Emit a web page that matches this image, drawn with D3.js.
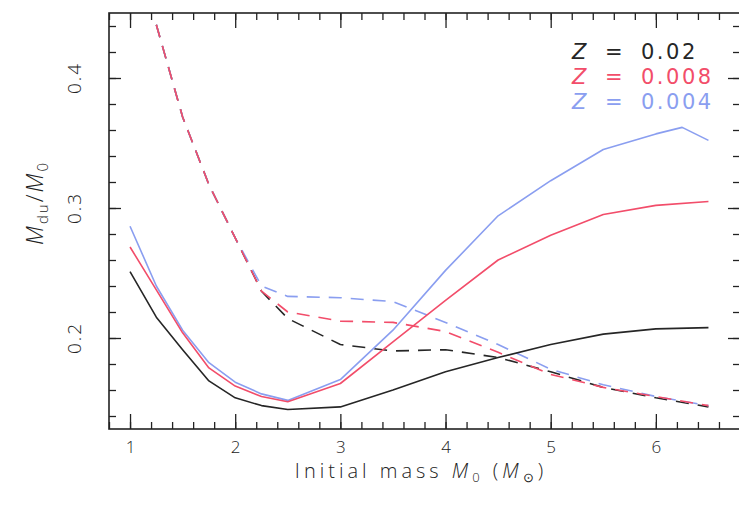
<!DOCTYPE html>
<html>
<head>
<meta charset="utf-8">
<script src="https://cdn.jsdelivr.net/npm/d3@7"></script>
<style>
  html, body { margin: 0; padding: 0; background: #fff; }
  svg { display: block; }
  text { font-family: "Open Sans", "DejaVu Sans", sans-serif; font-weight: 300; }
</style>
</head>
<body>
<svg id="chart" width="739" height="515"></svg>
<script>
// Initial stellar masses (solar masses) for the solid curves
const massesSolid = [1.0, 1.25, 1.5, 1.75, 2.0, 2.25, 2.5, 3.0, 3.5, 4.0, 4.5, 5.0, 5.5, 6.0, 6.5];
const massesSolidZ004 = [1.0, 1.25, 1.5, 1.75, 2.0, 2.25, 2.5, 3.0, 3.5, 4.0, 4.5, 5.0, 5.5, 6.0, 6.25, 6.5];
// Initial masses for the dashed curves
const massesDashed = [1.25, 1.5, 1.75, 2.0, 2.25, 2.5, 3.0, 3.5, 4.0, 4.5, 5.0, 5.5, 6.0, 6.5];

// Solid curves: M_du / M_0
const solidZ002  = [0.251, 0.216, 0.191, 0.167, 0.154, 0.148, 0.145, 0.147, 0.160, 0.174, 0.185, 0.195, 0.203, 0.207, 0.208];
const solidZ0008 = [0.270, 0.237, 0.204, 0.177, 0.163, 0.155, 0.151, 0.165, 0.197, 0.229, 0.260, 0.279, 0.295, 0.302, 0.305];
const solidZ0004 = [0.286, 0.240, 0.206, 0.181, 0.166, 0.157, 0.152, 0.168, 0.206, 0.252, 0.294, 0.321, 0.345, 0.357, 0.362, 0.352];

// Dashed curves
const dashedZ002  = [0.441, 0.370, 0.318, 0.277, 0.236, 0.215, 0.195, 0.190, 0.191, 0.185, 0.174, 0.162, 0.154, 0.147];
const dashedZ0008 = [0.441, 0.370, 0.318, 0.277, 0.236, 0.220, 0.213, 0.212, 0.205, 0.189, 0.172, 0.162, 0.155, 0.148];
const dashedZ0004 = [0.441, 0.370, 0.318, 0.277, 0.240, 0.232, 0.231, 0.228, 0.212, 0.195, 0.176, 0.164, 0.155, 0.148];

// Axis ticks and labels
const xMajorTicks = [1, 2, 3, 4, 5, 6];
const yMajorTicks = [0.2, 0.3, 0.4];
const legendLabels = ["0.02", "0.008", "0.004"];

const colors = { z002: "#262626", z0008: "#f24d6a", z0004: "#8a9ef0" };

const svg = d3.select("#chart");
const plotLeft = 109, plotRight = 740, plotTop = 13, plotBottom = 429;

const x = d3.scaleLinear().domain([0.8, 6.8]).range([plotLeft, plotRight]);
const y = d3.scaleLinear().domain([0.13, 0.45]).range([plotBottom, plotTop]);

const axisColor = "#222";

// Minor and major ticks on all four sides (pointing inward)
const xMinor = d3.range(0.8, 6.81, 0.2).map(v => +v.toFixed(1));
const yMinor = d3.range(0.14, 0.451, 0.02).map(v => +v.toFixed(2));

function styleAxis(g) {
  g.select(".domain").remove();
  g.selectAll(".tick line").attr("stroke", axisColor).attr("stroke-width", 1.3);
}

svg.append("g").attr("transform", `translate(0,${plotBottom})`)
  .call(d3.axisBottom(x).tickValues(xMinor).tickSize(-7).tickFormat(""))
  .call(styleAxis);
svg.append("g").attr("transform", `translate(0,${plotTop})`)
  .call(d3.axisTop(x).tickValues(xMinor).tickSize(-7).tickFormat(""))
  .call(styleAxis);

const xb = svg.append("g").attr("transform", `translate(0,${plotBottom})`)
  .call(d3.axisBottom(x).tickValues(xMajorTicks).tickSize(-15).tickPadding(12).tickFormat(d3.format("d")))
  .call(styleAxis);
xb.selectAll(".tick text").attr("fill", "#222")
  .style("font-size", "17px").style("font-family", "'Open Sans', sans-serif").style("font-weight", 300);
svg.append("g").attr("transform", `translate(0,${plotTop})`)
  .call(d3.axisTop(x).tickValues(xMajorTicks).tickSize(-15).tickFormat(""))
  .call(styleAxis);

svg.append("g").attr("transform", `translate(${plotLeft},0)`)
  .call(d3.axisLeft(y).tickValues(yMinor).tickSize(-7).tickFormat(""))
  .call(styleAxis);
svg.append("g").attr("transform", `translate(${plotRight},0)`)
  .call(d3.axisRight(y).tickValues(yMinor).tickSize(-7).tickFormat(""))
  .call(styleAxis);
svg.append("g").attr("transform", `translate(${plotLeft},0)`)
  .call(d3.axisLeft(y).tickValues(yMajorTicks).tickSize(-12).tickFormat(""))
  .call(styleAxis);
svg.append("g").attr("transform", `translate(${plotRight},0)`)
  .call(d3.axisRight(y).tickValues(yMajorTicks).tickSize(-12).tickFormat(""))
  .call(styleAxis);

// Rotated y tick labels
svg.append("g").selectAll("text").data(yMajorTicks).join("text")
  .attr("transform", d => `translate(81,${y(d)}) rotate(-90)`)
  .attr("text-anchor", "middle")
  .attr("fill", "#222")
  .style("font-size", "19px")
  .style("letter-spacing", "2px")
  .text(d => d3.format(".1f")(d));

// Plot frame
svg.append("rect")
  .attr("x", plotLeft).attr("y", plotTop)
  .attr("width", plotRight - plotLeft).attr("height", plotBottom - plotTop)
  .attr("fill", "none").attr("stroke", axisColor).attr("stroke-width", 1.6);

// Curves
svg.append("clipPath").attr("id", "plot-clip")
  .append("rect").attr("x", plotLeft).attr("y", plotTop)
  .attr("width", plotRight - plotLeft).attr("height", plotBottom - plotTop);

const line = d3.line().x(d => x(d[0])).y(d => y(d[1]));
const zip = (xs, ys) => xs.map((m, i) => [m, ys[i]]);

const curves = [
  { xs: massesDashed, ys: dashedZ002, color: colors.z002, dashed: true },
  { xs: massesDashed, ys: dashedZ0004, color: colors.z0004, dashed: true },
  { xs: massesDashed, ys: dashedZ0008, color: colors.z0008, dashed: true },
  { xs: massesSolid, ys: solidZ002, color: colors.z002, dashed: false },
  { xs: massesSolidZ004, ys: solidZ0004, color: colors.z0004, dashed: false },
  { xs: massesSolid, ys: solidZ0008, color: colors.z0008, dashed: false }
];

svg.append("g").attr("clip-path", "url(#plot-clip)")
  .selectAll("path").data(curves).join("path")
  .attr("d", c => line(zip(c.xs, c.ys)))
  .attr("fill", "none")
  .attr("stroke", c => c.color)
  .attr("stroke-width", 1.6)
  .attr("stroke-linejoin", "round")
  .attr("stroke-dasharray", c => c.dashed ? "13,9" : null);

// Legend
const legendColors = [colors.z002, colors.z0008, colors.z0004];
const legendBaselines = [59, 84, 109];
const legend = svg.append("g");
legendLabels.forEach((lab, i) => {
  const t = legend.append("text")
    .attr("x", 572).attr("y", legendBaselines[i])
    .attr("fill", legendColors[i])
    .style("font-family", "'DejaVu Sans', sans-serif")
    .style("font-weight", "normal")
    .style("font-size", "21px");
  t.append("tspan").style("font-style", "italic").text("Z");
  t.append("tspan").attr("x", 605).text("=");
  t.append("tspan").attr("x", 641).style("letter-spacing", "2.5px").text(lab);
});

// Axis titles
const xt = svg.append("text")
  .attr("x", 421).attr("y", 478)
  .attr("text-anchor", "middle")
  .attr("fill", "#222")
  .style("font-size", "20px")
  .style("letter-spacing", "4px");
xt.append("tspan").text("Initial mass ");
xt.append("tspan").style("font-style", "italic").text("M");
xt.append("tspan").attr("dy", 4).style("font-size", "13px").text("0");
xt.append("tspan").attr("dy", -4).text(" (");
xt.append("tspan").style("font-style", "italic").text("M");
xt.append("tspan").attr("dy", 4).style("font-size", "13px").text("\u2299");
xt.append("tspan").attr("dy", -4).text(")");

const yt = svg.append("text")
  .attr("transform", "translate(43,203) rotate(-90)")
  .attr("text-anchor", "middle")
  .attr("fill", "#222")
  .style("font-size", "23px")
  .style("letter-spacing", "2px");
yt.append("tspan").style("font-style", "italic").text("M");
yt.append("tspan").attr("dy", 5).style("font-size", "15px").text("du");
yt.append("tspan").attr("dy", -5).text("/");
yt.append("tspan").style("font-style", "italic").text("M");
yt.append("tspan").attr("dy", 5).style("font-size", "15px").text("0");
</script>
</body>
</html>
